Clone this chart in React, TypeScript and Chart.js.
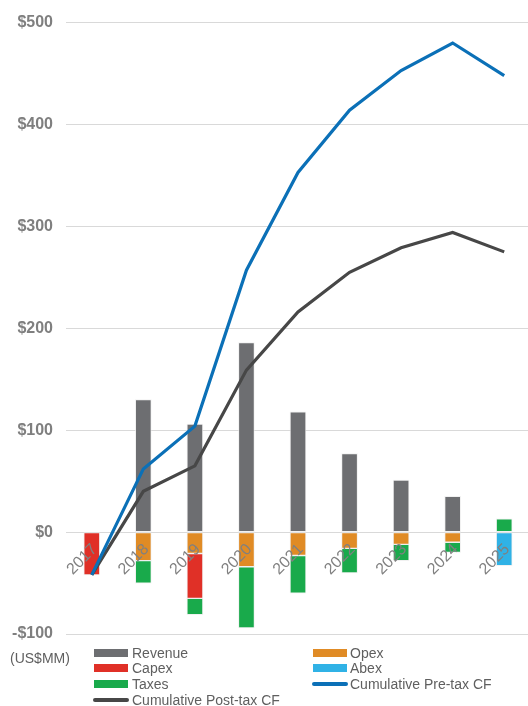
import React, { useEffect, useRef } from "react";
import { Chart, registerables } from "chart.js";

Chart.register(...registerables);

const years = ["2017", "2018", "2019", "2020", "2021", "2022", "2023", "2024", "2025"];
const revenue = [null, 130, 106, 186, 118, 77, 51, 35, null];
const opex = [null, -28, -21, -34, -23, -16, -12, -10, null];
const capex = [-42, null, -44, null, null, null, null, null, null];
const abex = [null, null, null, null, null, null, null, null, -33];
const taxes = [null, -22, -16, -60, -37, -24, -16, -10, 13];
const preTaxCum = [-42, 62, 104, 257, 353, 414, 453, 480, 448];
const postTaxCum = [-42, 40, 65, 159, 216, 255, 279, 294, 275];
const yMin = -100;
const yMax = 500;
const yStep = 100;
const unitLabel = "(US$MM)";

const colors = {
  revenue: "#6d6e71",
  opex: "#e08b25",
  capex: "#e03027",
  abex: "#30b2e6",
  taxes: "#19aa4b",
  pre: "#0b70b7",
  post: "#474747",
};

const FONT = '"Liberation Sans", Arial, sans-serif';

type LegendItem = { label: string; color: string; kind: "box" | "line"; col: number; row: number };
const legendItems: LegendItem[] = [
  { label: "Revenue", color: colors.revenue, kind: "box", col: 0, row: 0 },
  { label: "Opex", color: colors.opex, kind: "box", col: 1, row: 0 },
  { label: "Capex", color: colors.capex, kind: "box", col: 0, row: 1 },
  { label: "Abex", color: colors.abex, kind: "box", col: 1, row: 1 },
  { label: "Taxes", color: colors.taxes, kind: "box", col: 0, row: 2 },
  { label: "Cumulative Pre-tax CF", color: colors.pre, kind: "line", col: 1, row: 2 },
  { label: "Cumulative Post-tax CF", color: colors.post, kind: "line", col: 0, row: 3 },
];

export default function App() {
  const ref = useRef<HTMLCanvasElement | null>(null);

  useEffect(() => {
    if (!ref.current) return;
    const barBase = {
      type: "bar" as const,
      barThickness: 16,
      borderWidth: 1,
      borderColor: "rgba(235,235,235,0.7)",
      borderSkipped: false,
      order: 2,
    };
    const lineBase = {
      type: "line" as const,
      borderWidth: 3.2,
      pointRadius: 0,
      fill: false,
      tension: 0,
      order: 0,
    };
    const chart = new Chart(ref.current, {
      type: "bar",
      data: {
        labels: years,
        datasets: [
          { ...barBase, label: "Revenue", data: revenue, backgroundColor: colors.revenue },
          { ...barBase, label: "Opex", data: opex, backgroundColor: colors.opex },
          { ...barBase, label: "Capex", data: capex, backgroundColor: colors.capex },
          { ...barBase, label: "Abex", data: abex, backgroundColor: colors.abex },
          { ...barBase, label: "Taxes", data: taxes, backgroundColor: colors.taxes },
          { ...lineBase, label: "Cumulative Pre-tax CF", data: preTaxCum, borderColor: colors.pre, stack: "pre", order: 0 },
          { ...lineBase, label: "Cumulative Post-tax CF", data: postTaxCum, borderColor: colors.post, stack: "post", order: 1 },
        ] as any,
      },
      options: {
        responsive: false,
        animation: false,
        maintainAspectRatio: false,
        layout: { padding: { top: 20, bottom: 72, left: 0, right: 1 } },
        plugins: { legend: { display: false }, tooltip: { enabled: false } },
        scales: {
          x: {
            stacked: true,
            position: { y: 0 } as any,
            grid: { display: false },
            border: { display: false },
            ticks: {
              z: 1,
              color: "#808080",
              font: { family: FONT, size: 16 },
              minRotation: 45,
              maxRotation: 45,
              padding: 0,
              labelOffset: 3,
              autoSkip: false,
            },
          },
          y: {
            stacked: true,
            min: yMin,
            max: yMax,
            border: { display: false },
            grid: { color: "#d9d9d9", lineWidth: 1, drawTicks: false },
            ticks: {
              stepSize: yStep,
              color: "#7f7f7f",
              font: { family: FONT, size: 16, weight: "bold" },
              padding: 13,
              callback: (v: any) => (Number(v) < 0 ? "-$" : "$") + Math.abs(Number(v)),
            },
            afterFit: (s: any) => {
              s.width = 66;
            },
          },
        },
      } as any,
    });
    return () => chart.destroy();
  }, []);

  const rowY = [652.7, 668.3, 684, 700];
  const colBoxX = [94, 313];
  const colTextX = [132, 350];

  return (
    <div style={{ position: "fixed", left: 0, top: 0, width: 531, height: 706, background: "#fff", fontFamily: FONT, overflow: "hidden" }}>
      <canvas ref={ref} width={531} height={706} style={{ position: "absolute", left: 0, top: 0, display: "block" }} />
      <div style={{ position: "absolute", left: 10, top: 658 - 9, height: 18, lineHeight: "18px", fontSize: 14, color: "#5f5f5f" }}>{unitLabel}</div>
      {legendItems.map((it) => (
        <React.Fragment key={it.label}>
          <div
            style={{
              position: "absolute",
              left: it.kind === "box" ? colBoxX[it.col] : colBoxX[it.col] - 1,
              top: rowY[it.row] - (it.kind === "box" ? 4 : 2),
              width: it.kind === "box" ? 34 : 36,
              height: it.kind === "box" ? 8 : 4,
              borderRadius: it.kind === "box" ? 0 : 2,
              background: it.color,
            }}
          />
          <div
            style={{
              position: "absolute",
              left: colTextX[it.col],
              top: rowY[it.row] - 9,
              height: 18,
              lineHeight: "18px",
              fontSize: 14,
              color: "#5f5f5f",
              whiteSpace: "nowrap",
            }}
          >
            {it.label}
          </div>
        </React.Fragment>
      ))}
    </div>
  );
}
